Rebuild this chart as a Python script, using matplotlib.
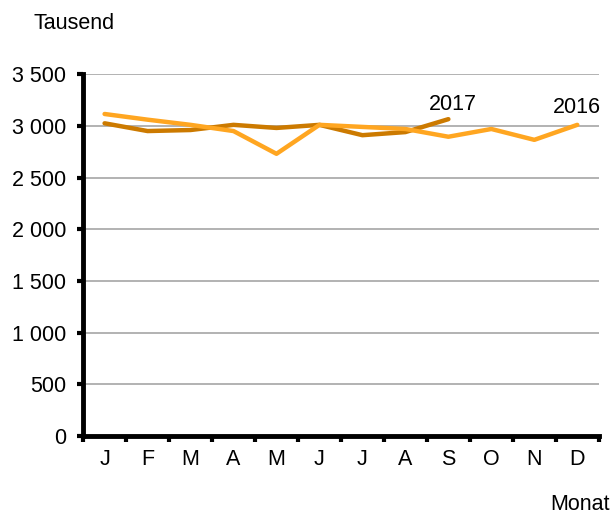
import matplotlib.pyplot as plt
import numpy as np

plt.rcParams['font.family'] = ['Liberation Sans', 'DejaVu Sans']

monate = ['J', 'F', 'M', 'A', 'M', 'J', 'J', 'A', 'S', 'O', 'N', 'D']
werte_2016 = [3115, 3060, 3010, 2950, 2730, 3010, 2990, 2970, 2895, 2970, 2865, 3010]
werte_2017 = [3025, 2950, 2960, 3010, 2980, 3010, 2910, 2940, 3065]
y_ticks = [0, 500, 1000, 1500, 2000, 2500, 3000, 3500]

fs = 15.5

fig = plt.figure(figsize=(6.11, 5.15), dpi=100)
ax = fig.add_axes([0.136, 0.153, 0.844, 0.703])

x16 = np.arange(len(werte_2016)) + 0.5
x17 = np.arange(len(werte_2017)) + 0.5
ax.plot(x17, werte_2017, color='#CC7A00', lw=3.2, solid_capstyle='round', zorder=3)
ax.plot(x16, werte_2016, color='#FFA621', lw=3.2, solid_capstyle='round', zorder=4)

ax.set_xlim(0, 12)
ax.set_ylim(0, 3500)
ax.set_yticks(y_ticks)
ax.set_yticklabels([f'{v:,}'.replace(',', ' ') for v in y_ticks], fontsize=fs)
ax.set_xticks(np.arange(13))
ax.set_xticklabels([])
ax.set_xticks(x16, minor=True)
ax.set_xticklabels(monate, minor=True, fontsize=fs)
ax.tick_params(axis='x', which='minor', length=0, pad=9)
ax.tick_params(axis='x', which='major', length=4, width=3, direction='out')
ax.tick_params(axis='y', length=4, width=3, direction='out', pad=8)

ax.grid(axis='y', color='#a6a6a6', lw=1.2, zorder=1)
ax.set_axisbelow(True)
for s in ['top', 'right']:
    ax.spines[s].set_visible(False)
for s in ['left', 'bottom']:
    ax.spines[s].set_linewidth(3.5)

ax.text(x17[-1] + 0.1, 3110, '2017', fontsize=fs, ha='center', va='bottom')
ax.text(x16[-1], 3080, '2016', fontsize=fs, ha='center', va='bottom')

fig.text(0.055, 0.955, 'Tausend', fontsize=fs, ha='left', va='center')
fig.text(0.998, 0.02, 'Monat', fontsize=fs, ha='right', va='center')

fig.savefig('out.png', dpi=100)
